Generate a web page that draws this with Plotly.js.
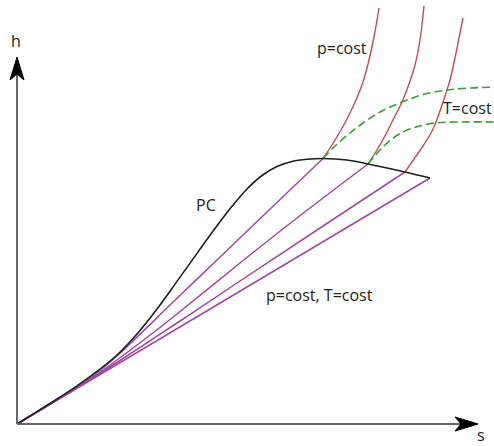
<!DOCTYPE html>
<html>
<head>
<meta charset="utf-8">
<script src="https://cdn.plot.ly/plotly-3.0.1.min.js"></script>
<style>
  html, body { margin: 0; padding: 0; background: #fff; }
  #chart { width: 494px; height: 446px; }
</style>
</head>
<body>
<div id="chart"></div>
<script>
// Mollier (h-s) sketch: saturation dome, isobars and isotherms.
// Units are arbitrary entropy (s) and enthalpy (h).

// Saturation curve (PC)
const satS = [0, 20, 40, 60, 80, 100, 120, 140, 160, 180, 200, 215, 230, 245, 260, 275, 290, 306, 330, 351, 370, 388, 413];
const satH = [0, 12.4, 25, 38.2, 52.6, 69, 90, 115, 142.6, 170.6, 198.2, 217.7, 235, 248.5, 257.5, 262.5, 264.7, 265.5, 264, 260, 256, 252, 246];

// Two-phase isobars (p = cost, T = cost), from the origin up to the saturation curve
const wet1S = [0, 30, 60, 80, 100, 160, 200, 250, 306];
const wet1H = [0, 18, 36.5, 51, 68, 125.7, 164, 212, 265.5];
const wet2S = [0, 30, 60, 80, 100, 130, 160, 223, 280, 351];
const wet2H = [0, 18, 36.5, 49.5, 64, 86.5, 110, 161, 206, 260];
const wet3S = [0, 30, 60, 100, 160, 223, 300, 388];
const wet3H = [0, 18, 36, 61.5, 101, 143, 194, 252];
const wet4S = [0, 413];
const wet4H = [0, 246];

// Superheated isobars (p = cost)
const p1S = [306, 315, 324, 332, 339, 346, 352, 357, 362];
const p1H = [265.5, 279, 294, 309, 324, 342, 364, 387, 416];
const p2S = [351, 360, 369, 377, 385, 392, 398, 403, 407];
const p2H = [260, 274, 290, 306, 322, 340, 359, 384, 418];
const p3S = [388, 397, 406, 414, 419, 424, 429, 433, 438, 442, 446];
const p3H = [252, 265, 278, 291, 302, 316, 331, 344, 366, 386, 406];

// Isotherms (T = cost)
const t1S = [306, 318, 333, 346, 363, 385, 408, 431, 453, 480];
const t1H = [265.5, 278, 291, 301, 312, 322, 330, 334, 336, 337];
const t2S = [351, 363, 375, 388, 403, 418, 443, 480];
const t2H = [260, 274, 285, 293, 298, 301, 302, 302];

// Axis extents
const S_MIN = -17, S_MAX = 477;
const H_MIN = -22, H_MAX = 424;
const S_AXIS_END = 461;
const H_AXIS_END = 367;

const purple = '#9c4a9e';
const red = '#c0504d';
const green = '#3e9a3e';
const black = '#1e1e1e';

const traces = [];

// Wet-region isobars
[[wet1S, wet1H], [wet2S, wet2H], [wet3S, wet3H], [wet4S, wet4H]].forEach(([xs, ys]) => {
  traces.push({
    x: xs, y: ys, mode: 'lines',
    line: { color: purple, width: 1.5, shape: 'spline', smoothing: 1 },
    hoverinfo: 'skip', showlegend: false
  });
});

// Superheated isobars
[[p1S, p1H], [p2S, p2H], [p3S, p3H]].forEach(([xs, ys]) => {
  traces.push({
    x: xs, y: ys, mode: 'lines',
    line: { color: red, width: 1.4, shape: 'spline', smoothing: 1 },
    hoverinfo: 'skip', showlegend: false
  });
});

// Isotherms
[[t1S, t1H], [t2S, t2H]].forEach(([xs, ys]) => {
  traces.push({
    x: xs, y: ys, mode: 'lines',
    line: { color: green, width: 1.6, dash: '8px,4px', shape: 'spline', smoothing: 1 },
    hoverinfo: 'skip', showlegend: false
  });
});

// Saturation curve
traces.push({
  x: satS, y: satH, mode: 'lines',
  line: { color: black, width: 1.6, shape: 'spline', smoothing: 1 },
  hoverinfo: 'skip', showlegend: false
});

// Axis arrows drawn as shapes
function arrowHeadH(tip) {
  return `M ${tip} 0 L ${tip - 23} 7 L ${tip - 17} 0 L ${tip - 23} -7 Z`;
}
function arrowHeadV(tip) {
  return `M 0 ${tip} L 7 ${tip - 23} L 0 ${tip - 17} L -7 ${tip - 23} Z`;
}

const shapes = [
  { type: 'line', x0: 0, y0: 0, x1: S_AXIS_END - 10, y1: 0, line: { color: '#666', width: 2 }, layer: 'above' },
  { type: 'line', x0: 0, y0: 0, x1: 0, y1: H_AXIS_END - 10, line: { color: '#666', width: 2 }, layer: 'above' },
  { type: 'path', path: arrowHeadH(S_AXIS_END), fillcolor: '#000', line: { color: '#000', width: 1 }, layer: 'above' },
  { type: 'path', path: arrowHeadV(H_AXIS_END), fillcolor: '#000', line: { color: '#000', width: 1 }, layer: 'above' }
];

const font = { family: 'Open Sans, Liberation Sans, sans-serif', size: 16, color: '#222' };
const annotations = [
  { x: -1, y: 383, text: 'h' },
  { x: 464, y: -11, text: 's' },
  { x: 189, y: 219, text: 'PC' },
  { x: 325, y: 376, text: 'p=cost' },
  { x: 477, y: 316, text: 'T=cost', xanchor: 'right' },
  { x: 302, y: 129, text: 'p=cost, T=cost' }
].map(a => Object.assign({ xref: 'x', yref: 'y', showarrow: false, font: font, xanchor: 'center', yanchor: 'middle' }, a));

const layout = {
  width: 494, height: 446,
  margin: { l: 0, r: 0, t: 0, b: 0 },
  paper_bgcolor: '#fff', plot_bgcolor: '#fff',
  xaxis: { range: [S_MIN, S_MAX], visible: false, fixedrange: true },
  yaxis: { range: [H_MIN, H_MAX], visible: false, fixedrange: true },
  shapes: shapes,
  annotations: annotations,
  showlegend: false
};

Plotly.newPlot('chart', traces, layout, { displayModeBar: false, staticPlot: true });
</script>
</body>
</html>
